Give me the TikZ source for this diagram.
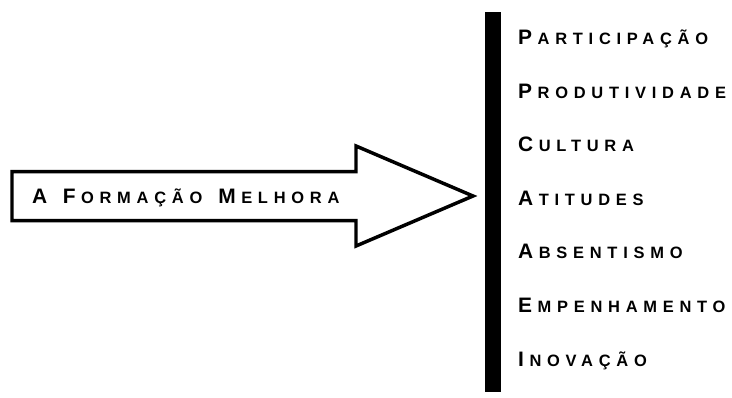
\documentclass[tikz,border=0pt]{standalone}
\usepackage{fontspec}
\newfontfamily\labelfont[LetterSpace=35]{Liberation Sans}
\usetikzlibrary{positioning}
\newcommand{\capword}[2]{{\fontsize{21}{21}\selectfont #1}\kern5.5bp{\fontsize{16.5}{16.5}\selectfont #2}}
\tikzset{
    bigarrow/.style={draw=black, line width=3.5pt, line join=miter, fill=white},
    sidebar/.style={fill=black},
    effect/.style={anchor=base west, inner sep=0pt, font=\labelfont\bfseries},
    claim/.style={anchor=base west, inner sep=0pt, font=\labelfont\bfseries},
}
\begin{document}
\begin{tikzpicture}[x=1bp, y=-1bp]

    \useasboundingbox (0,0) rectangle (732,397);

    % arrow outline
    \coordinate (tail) at (12,196);
    \coordinate (tip) at (473,196);
    \draw[bigarrow] (tail) ++(0,-24.5) -- (356,171.5) -- (356,146)
        -- (tip) -- (356,246) -- (356,220.5) -- (12,220.5) -- cycle;

    \node[claim] (claim) at (32,203.5)
        {\capword{A}{}\hspace{10bp}\capword{F}{ORMAÇÃO}\hspace{16bp}\capword{M}{ELHORA}};

    % vertical bar
    \fill[sidebar] (485,12) rectangle (501,392);

    % effects
    \foreach \first/\rest [count=\i] in {P/ARTICIPAÇÃO, P/RODUTIVIDADE, C/ULTURA,
        A/TITUDES, A/BSENTISMO, E/MPENHAMENTO, I/NOVAÇÃO}
        \node[effect] (effect\i) at (518,{44.5+53.6*(\i-1)}) {\capword{\first}{\rest}};

\end{tikzpicture}
\end{document}
